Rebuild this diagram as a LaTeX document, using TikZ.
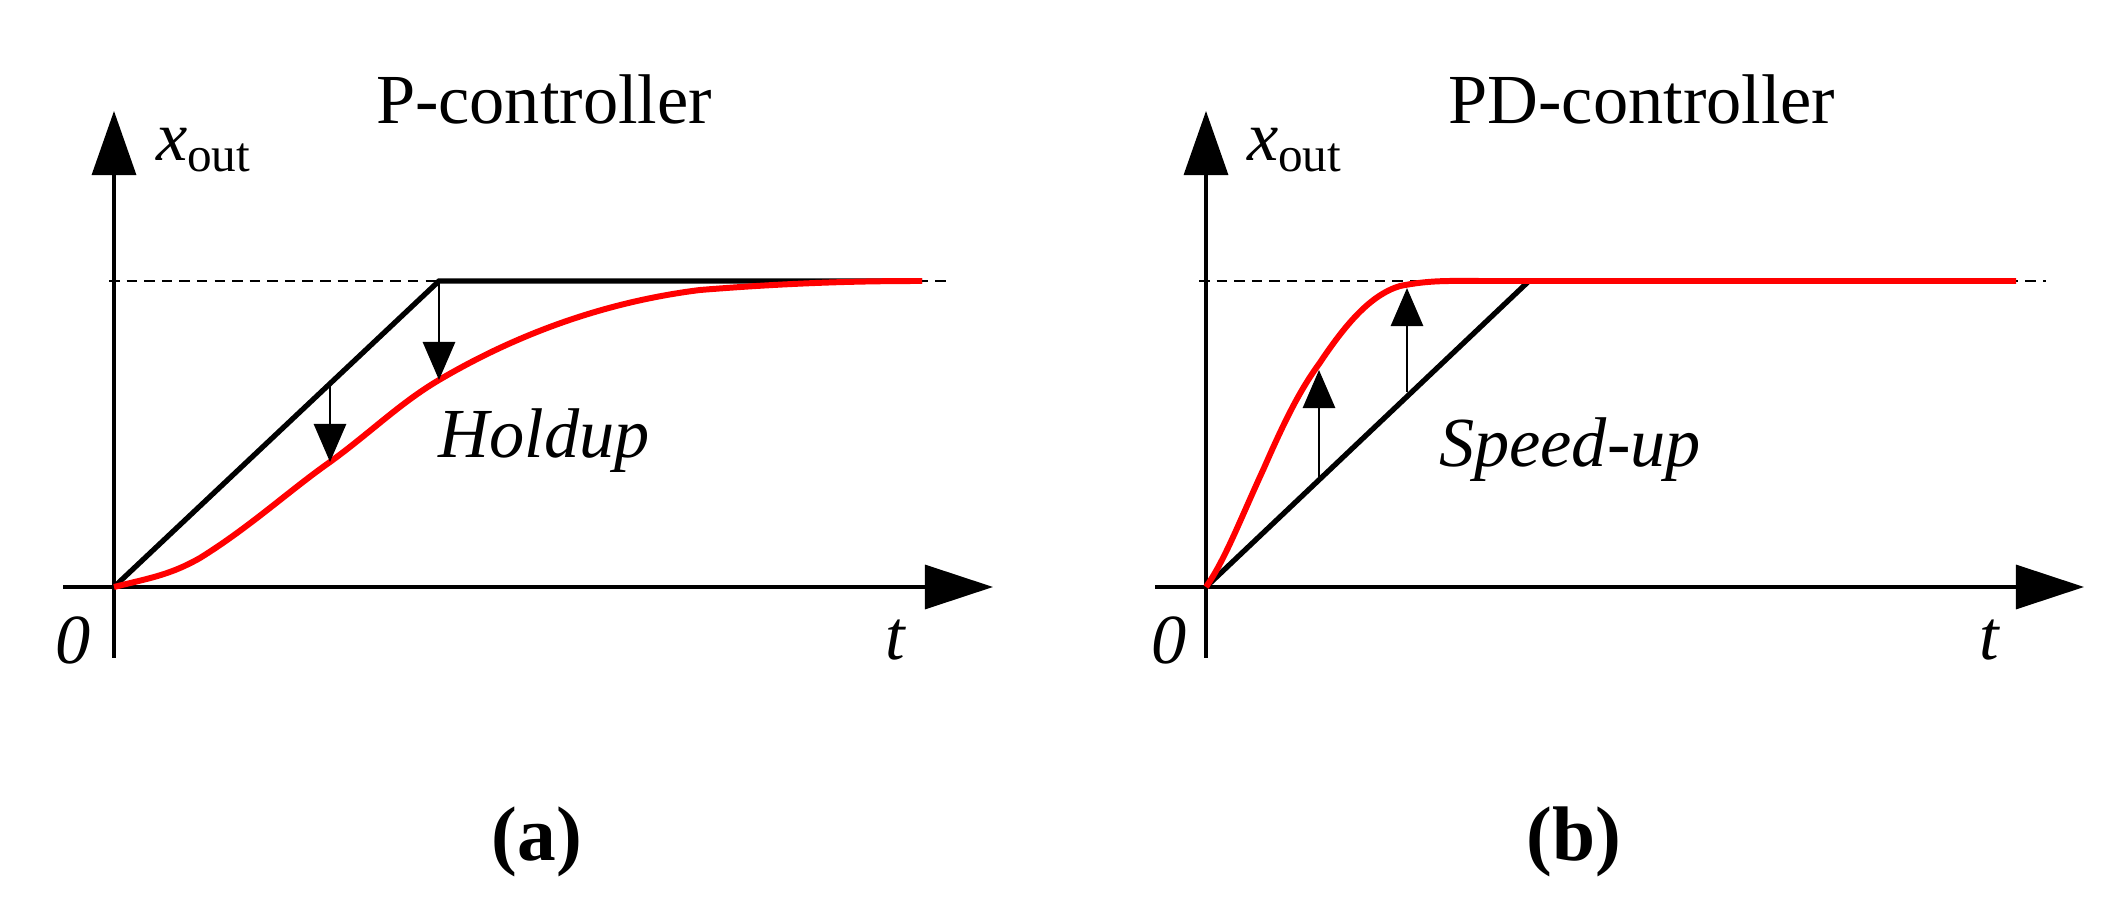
\documentclass[tikz,border=0pt]{standalone}
\usepackage{fontspec}
\setmainfont{Liberation Serif}
\usetikzlibrary{arrows.meta}
\begin{document}
\begin{tikzpicture}[x=0.01cm,y=-0.01cm,
  vaxis/.style={line width=0.9pt,-{Triangle[length=6.4mm,width=4.4mm]}},
  haxis/.style={line width=0.9pt,-{Triangle[length=6.8mm,width=4.4mm]}},
  ramp/.style={line width=1.5pt,line join=miter},
  resp/.style={line width=1.7pt,red},
  shiftarr/.style={line width=0.8pt,-{Triangle[length=3.8mm,width=3.2mm]}},
  lvl/.style={line width=0.6pt,dash pattern=on 3pt off 2pt},
  ttl/.style={font=\fontsize{20}{22}\selectfont},
  lbl/.style={font=\fontsize{20}{22}\selectfont\itshape}]
\useasboundingbox (0,0) rectangle (2120,916);
% ---------- panel (a) ----------
\coordinate (ao) at (114,587);
\coordinate (ayb) at (114,658);
\coordinate (ayt) at (114,111);
\coordinate (axl) at (63,587);
\coordinate (axr) at (993,587);
\coordinate (ad1) at (109,281);
\coordinate (ad2) at (952,281);
\coordinate (ac) at (439,281);
\coordinate (ae) at (922,281);
\draw[lvl] (ad1) -- (ad2);
\draw[vaxis] (ayb) -- (ayt);
\draw[haxis] (axl) -- (axr);
\draw[ramp] (ao) -- (ac) -- (ae);
\draw[resp] (114,587) .. controls (150,578) and (170,575) .. (200,558)
  .. controls (250,527) and (290,490) .. (330,462)
  .. controls (370,433) and (400,403) .. (439,380)
  .. controls (490,350) and (580,305) .. (700,290)
  .. controls (800,282) and (870,281) .. (922,281);
\coordinate (a1s) at (439,281); \coordinate (a1e) at (439,380);
\coordinate (a2s) at (330,386); \coordinate (a2e) at (330,462);
\draw[shiftarr] (a1s) -- (a1e);
\draw[shiftarr] (a2s) -- (a2e);
\node[ttl] (atitle) at (544,99) {P-controller};
\node[font=\fontsize{20}{22}\selectfont] (ax) at (204,150) {$\mathit{x}_{\mathrm{out}}$};
\node[lbl] (ahold) at (544,441) {Holdup};
\node[lbl] (a0) at (73,640) {0};
\node[lbl] (at) at (895,640) {t};
\node[font=\fontsize{22}{24}\selectfont\bfseries] (alab) at (537,842) {(a)};
% ---------- panel (b) ----------
\coordinate (bo) at (1206,587);
\coordinate (byb) at (1206,658);
\coordinate (byt) at (1206,111);
\coordinate (bxl) at (1155,587);
\coordinate (bxr) at (2084,587);
\coordinate (bd1) at (1199,281);
\coordinate (bd2) at (2046,281);
\coordinate (bc) at (1529,281);
\draw[lvl] (bd1) -- (bd2);
\draw[vaxis] (byb) -- (byt);
\draw[haxis] (bxl) -- (bxr);
\draw[ramp] (bo) -- (bc);
\draw[resp] (1206,587) .. controls (1225,560) and (1240,520) .. (1264,468)
  .. controls (1285,420) and (1300,390) .. (1319,364)
  .. controls (1345,325) and (1370,295) .. (1400,286)
  .. controls (1430,280) and (1450,281) .. (1480,281) -- (2016,281);
\coordinate (b1s) at (1319,480); \coordinate (b1e) at (1319,370);
\coordinate (b2s) at (1407,392); \coordinate (b2e) at (1407,288);
\draw[shiftarr] (b1s) -- (b1e);
\draw[shiftarr] (b2s) -- (b2e);
\node[ttl] (btitle) at (1642,99) {PD-controller};
\node[font=\fontsize{20}{22}\selectfont] (bx) at (1295,150) {$\mathit{x}_{\mathrm{out}}$};
\node[lbl] (bspeed) at (1570,450) {Speed-up};
\node[lbl] (b0) at (1169,640) {0};
\node[lbl] (bt) at (1989,640) {t};
\node[font=\fontsize{22}{24}\selectfont\bfseries] (blab) at (1574,842) {(b)};
\end{tikzpicture}
\end{document}
